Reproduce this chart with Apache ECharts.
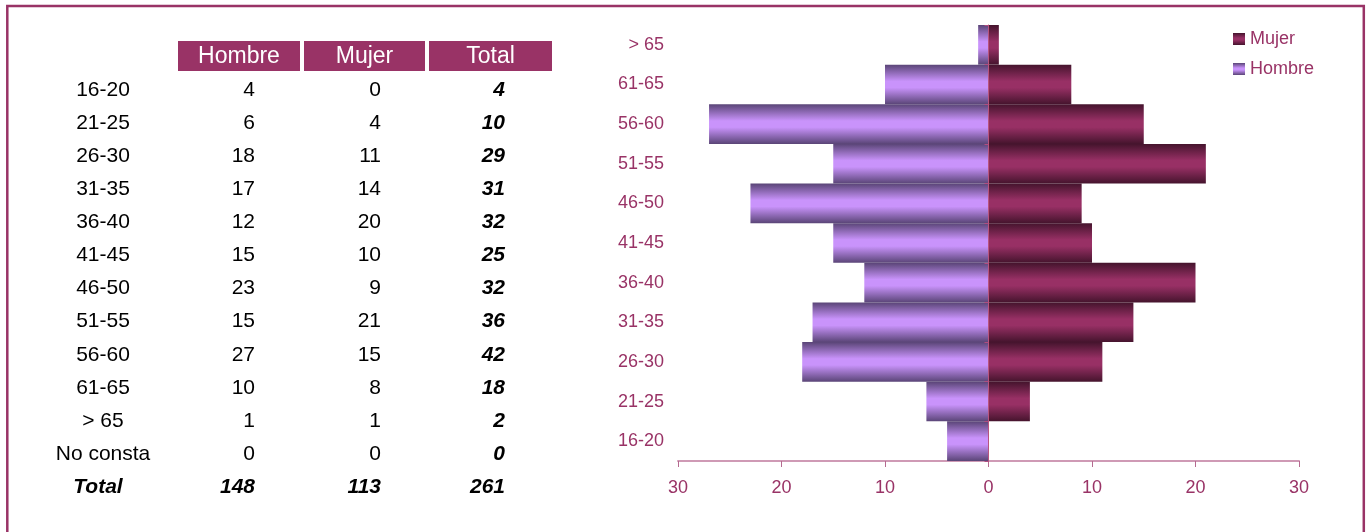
<!DOCTYPE html>
<html>
<head>
<meta charset="utf-8">
<script src="https://cdn.jsdelivr.net/npm/echarts@6/dist/echarts.min.js"></script>
<style>
html,body{margin:0;padding:0;background:#fff;}
#chart{width:1368px;height:532px;}
</style>
</head>
<body>
<div id="chart"></div>
<script>
// ---- Data ----
const tableHeaders = ['Hombre', 'Mujer', 'Total'];
const tableRows = ['16-20', '21-25', '26-30', '31-35', '36-40', '41-45', '46-50', '51-55', '56-60', '61-65', '> 65', 'No consta'];
const tableHombre = [4, 6, 18, 17, 12, 15, 23, 15, 27, 10, 1, 0];
const tableMujer = [0, 4, 11, 14, 20, 10, 9, 21, 15, 8, 1, 0];
const tableTotal = [4, 10, 29, 31, 32, 25, 32, 36, 42, 18, 2, 0];
const totalLabel = 'Total';
const totalHombre = 148;
const totalMujer = 113;
const totalAll = 261;

const ageCategories = ['16-20', '21-25', '26-30', '31-35', '36-40', '41-45', '46-50', '51-55', '56-60', '61-65', '> 65'];
const hombreValues = [4, 6, 18, 17, 12, 15, 23, 15, 27, 10, 1];
const mujerValues = [0, 4, 11, 14, 20, 10, 9, 21, 15, 8, 1];
const xTicks = [-30, -20, -10, 0, 10, 20, 30];

// ---- Styles ----
const PLUM = '#993366';
const FONT = '"Liberation Sans", Arial, sans-serif';

function grad(dark, light) {
  return new echarts.graphic.LinearGradient(0, 0, 0, 1, [
    {offset: 0, color: dark},
    {offset: 0.42, color: light},
    {offset: 0.58, color: light},
    {offset: 1, color: dark}
  ]);
}
const hombreGrad = grad('#5a4577', '#c993fb');
const mujerGrad = grad('#45142d', '#983065');

// ---- Table built as graphic elements ----
const graphics = [];
graphics.push({
  type: 'rect', shape: {x: 7.3, y: 6, width: 1356.5, height: 560},
  style: {fill: 'none', stroke: PLUM, lineWidth: 2.5}, silent: true
});
const headerCells = [[178, 300], [304, 425], [429, 552]];
tableHeaders.forEach((h, i) => {
  const [x0, x1] = headerCells[i];
  graphics.push({type: 'rect', shape: {x: x0, y: 41, width: x1 - x0, height: 30}, style: {fill: PLUM}, silent: true});
  graphics.push({type: 'text', x: (x0 + x1) / 2, y: 57,
    style: {text: h, fill: '#fff', font: '23px ' + FONT, align: 'center', verticalAlign: 'middle'}, silent: true});
});
const rowY0 = 90, rowStep = 33.1;
const colLabelX = 103, colH = 255, colM = 381, colT = 505;
function cell(text, x, y, align, bold) {
  graphics.push({type: 'text', x: x, y: y,
    style: {text: String(text), fill: '#000', font: (bold ? 'italic bold ' : '') + '21px ' + FONT,
      align: align, verticalAlign: 'middle'}, silent: true});
}
tableRows.forEach((r, i) => {
  const y = rowY0 + i * rowStep;
  cell(r, colLabelX, y, 'center', false);
  cell(tableHombre[i], colH, y, 'right', false);
  cell(tableMujer[i], colM, y, 'right', false);
  cell(tableTotal[i], colT, y, 'right', true);
});
const ty = rowY0 + tableRows.length * rowStep;
cell(totalLabel, 98, ty, 'center', true);
cell(totalHombre, colH, ty, 'right', true);
cell(totalMujer, colM, ty, 'right', true);
cell(totalAll, colT, ty, 'right', true);

const chart = echarts.init(document.getElementById('chart'));
chart.setOption({
  animation: false,
  textStyle: {fontFamily: FONT},
  graphic: graphics,
  legend: {
    data: ['Mujer', 'Hombre'],
    orient: 'vertical',
    left: 1233, top: 30, padding: 0,
    itemWidth: 12, itemHeight: 12, itemGap: 12,
    textStyle: {color: PLUM, fontSize: 18, fontFamily: FONT},
    icon: 'rect'
  },
  grid: {left: 678, right: 69, top: 25, bottom: 71, containLabel: false},
  xAxis: {
    type: 'value', min: xTicks[0], max: xTicks[xTicks.length - 1], interval: 10,
    axisLine: {show: true, onZero: false, lineStyle: {color: '#cf9ab5', width: 2}},
    axisTick: {show: true, length: 6, lineStyle: {color: '#b56a90'}},
    splitLine: {show: false},
    axisLabel: {color: PLUM, fontSize: 18, fontFamily: FONT, margin: 18, formatter: v => Math.abs(v)}
  },
  yAxis: [{
    type: 'category', data: ageCategories, position: 'left',
    axisLine: {show: false, onZero: false}, axisTick: {show: false},
    axisLabel: {color: PLUM, fontSize: 18, fontFamily: FONT, margin: 14}
  }, {
    type: 'category', data: ageCategories, position: 'left', z: 5,
    axisLine: {show: true, onZero: true, onZeroAxisIndex: 0, lineStyle: {color: '#b8557f', width: 1}},
    axisTick: {show: true, length: 4, inside: false, lineStyle: {color: '#b04d80'}},
    axisLabel: {show: false}
  }],
  series: [{
    name: 'Hombre', type: 'bar', yAxisIndex: 0,
    data: hombreValues.map(v => -v),
    barCategoryGap: '0%', barGap: '-100%',
    itemStyle: {color: hombreGrad}
  }, {
    name: 'Mujer', type: 'bar', yAxisIndex: 0,
    data: mujerValues,
    barCategoryGap: '0%', barGap: '-100%',
    itemStyle: {color: mujerGrad}
  }]
});
</script>
</body>
</html>
